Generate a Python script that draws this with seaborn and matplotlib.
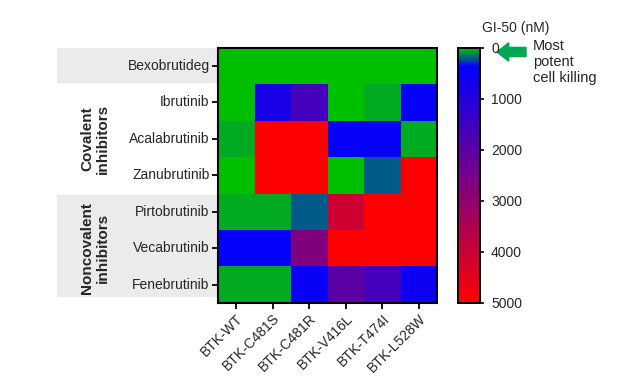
import numpy as np
import pandas as pd
import matplotlib
import matplotlib.pyplot as plt
import seaborn as sns
from matplotlib.colors import LinearSegmentedColormap
from matplotlib.patches import Rectangle
import matplotlib.transforms as mtransforms

drugs = ["Bexobrutideg", "Ibrutinib", "Acalabrutinib", "Zanubrutinib",
         "Pirtobrutinib", "Vecabrutinib", "Fenebrutinib"]
mutants = ["BTK-WT", "BTK-C481S", "BTK-C481R", "BTK-V416L", "BTK-T474I", "BTK-L528W"]

bexobrutideg = [5, 5, 5, 5, 5, 5]
ibrutinib = [5, 800, 1600, 5, 50, 450]
acalabrutinib = [50, 5000, 5000, 450, 450, 50]
zanubrutinib = [5, 5000, 5000, 5, 200, 5000]
pirtobrutinib = [50, 50, 200, 4100, 5000, 5000]
vecabrutinib = [420, 420, 2700, 5000, 5000, 5000]
fenebrutinib = [50, 50, 500, 2000, 1600, 600]

cbar_ticks = [0, 1000, 2000, 3000, 4000, 5000]


def make_cmap():
    nodes = [(0.0, (0.0, 0.75, 0.0)),
             (0.012, (0.0, 0.62, 0.2)),
             (0.04, (0.0, 0.35, 0.55)),
             (0.07, (0.0, 0.0, 1.0)),
             (1.0, (1.0, 0.0, 0.0))]
    return LinearSegmentedColormap.from_list("gi50", nodes)


def plot_graphs(df):
    sns.set_style("white")
    plt.rcParams['font.family'] = ['Liberation Sans', 'DejaVu Sans']

    fig = plt.figure(figsize=(6.21, 3.82), dpi=100)
    ax = fig.add_axes([0.351, 0.207, 0.353, 0.668])
    cax = fig.add_axes([0.7375, 0.207, 0.0354, 0.668])

    sns.heatmap(df, ax=ax, cbar_ax=cax, cmap=make_cmap(), vmin=0, vmax=5000,
                cbar_kws={"ticks": cbar_ticks})

    # grey group bands behind the row labels
    trans = mtransforms.blended_transform_factory(ax.transAxes, ax.transData)
    for y0, y1 in [(0, 0.97), (4.05, 6.85)]:
        ax.add_patch(Rectangle((-0.735, y0), 0.735, y1 - y0, transform=trans,
                               facecolor="#ebebeb", edgecolor="none",
                               clip_on=False, zorder=-5))
    ax.text(-0.56, 2.5, "Covalent\ninhibitors", transform=trans, rotation=90,
            ha="center", va="center", fontsize=11, fontweight="bold", linespacing=1.15)
    ax.text(-0.56, 5.5, "Noncovalent\ninhibitors", transform=trans, rotation=90,
            ha="center", va="center", fontsize=11, fontweight="bold", linespacing=1.15)

    for s in ax.spines.values():
        s.set_visible(True)
        s.set_color("black")
        s.set_linewidth(1.5)
    ax.tick_params(axis="both", length=4, width=1.3, color="black",
                   labelsize=10, left=True, bottom=True, pad=2)
    ax.set_yticklabels(drugs, rotation=0)
    ax.set_xticklabels(mutants, rotation=45, ha="right", rotation_mode="anchor")
    ax.set_xlabel("")
    ax.set_ylabel("")

    cax.invert_yaxis()
    for s in cax.spines.values():
        s.set_visible(True)
        s.set_color("black")
        s.set_linewidth(1.2)
    cax.tick_params(axis="y", length=3, width=1.2, color="black", labelsize=10, right=True, pad=5)

    fig.text(516 / 621, 1 - 28 / 382, "GI-50 (nM)", fontsize=10, ha="center", va="center")
    fig.text(533 / 621, 1 - 39 / 382, "Most\npotent\ncell killing", fontsize=10.5,
             ha="left", va="top", linespacing=1.2)
    ax.annotate("", xy=(497, 382 - 52), xycoords="figure pixels",
                xytext=(526, 382 - 52), textcoords="figure pixels",
                arrowprops=dict(arrowstyle="simple,head_length=0.7,head_width=1.1,tail_width=0.55",
                                color="#00a650", shrinkA=0, shrinkB=0, mutation_scale=12))

    fig.savefig("out.png", dpi=100)
    plt.close(fig)


def main():
    rows = [bexobrutideg, ibrutinib, acalabrutinib, zanubrutinib,
            pirtobrutinib, vecabrutinib, fenebrutinib]
    df = pd.DataFrame(rows, index=drugs, columns=mutants)
    plot_graphs(df)


if __name__ == "__main__":
    main()
